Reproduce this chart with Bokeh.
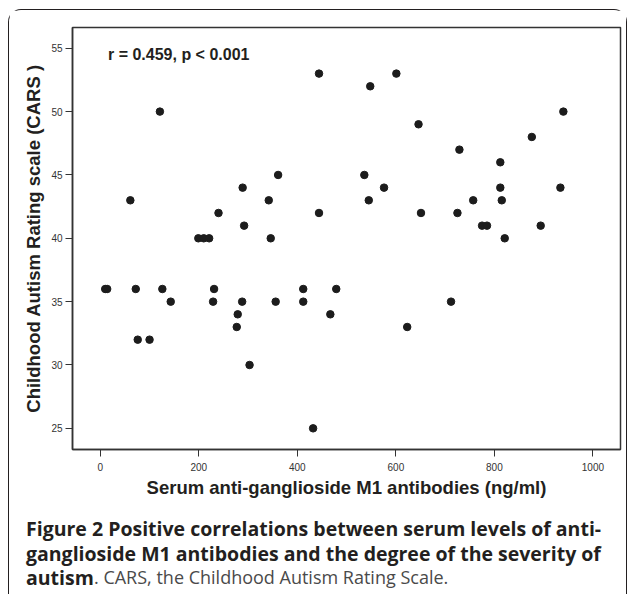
from bokeh.plotting import figure
from bokeh.layouts import column
from bokeh.models import Label, FixedTicker, ColumnDataSource
from bokeh.embed import file_html
from bokeh.resources import INLINE

# ---- data ----
gm1_ngml = [121, 61, 199, 210, 221, 240, 444, 548, 361, 536, 289, 342, 545, 444, 292, 346,
            601, 646, 729, 812, 576, 812, 757, 815, 651, 725, 775, 785, 821, 940, 876, 934,
            894, 412, 479, 412, 712, 467, 623, 231, 229, 288, 356, 279, 277, 303, 432, 10,
            14, 72, 126, 143, 76, 100]
cars_score = [50, 43, 40, 40, 40, 42, 53, 52, 45, 45, 44, 43, 43, 42, 41, 40,
              53, 49, 47, 46, 44, 44, 43, 43, 42, 42, 41, 41, 40, 50, 48, 44,
              41, 36, 36, 35, 35, 34, 33, 36, 35, 35, 35, 34, 33, 30, 25, 36,
              36, 36, 36, 35, 32, 32]
x_ticks = [0, 200, 400, 600, 800, 1000]
y_ticks = [25, 30, 35, 40, 45, 50, 55]
stat_text = "r = 0.459, p < 0.001"
x_title = "Serum anti-ganglioside M1 antibodies (ng/ml)"
y_title = "Childhood Autism Rating scale (CARS )"
caption_1 = "Figure 2 Positive correlations between serum levels of anti-"
caption_2 = "ganglioside M1 antibodies and the degree of the severity of"
caption_3a = "autism"
caption_3b = ". CARS, the Childhood Autism Rating Scale."

INK = "#231f20"
AX = "#333333"

src = ColumnDataSource(dict(x=gm1_ngml, y=cars_score))

p = figure(width=617, height=500, x_range=(-56.4, 1056.0), y_range=(23.33, 56.64),
           output_backend="svg", toolbar_location=None,
           min_border_left=63, min_border_right=6, min_border_top=17, min_border_bottom=61)
p.frame_align = False
p.background_fill_color = "white"
p.border_fill_color = "white"
p.outline_line_color = AX
p.outline_line_width = 1.5
p.xgrid.visible = False
p.ygrid.visible = False

p.scatter("x", "y", source=src, size=7.5, color="#1c1c1c")

for ax in (p.xaxis[0], p.yaxis[0]):
    ax.axis_line_color = AX
    ax.axis_line_width = 1.5
    ax.major_tick_line_color = AX
    ax.major_tick_line_width = 1
    ax.major_tick_out = 7
    ax.major_tick_in = 0
    ax.minor_tick_line_color = None
    ax.major_label_text_font = "Liberation Sans"
    ax.major_label_text_font_size = "10px"
    ax.major_label_text_color = AX
    ax.axis_label_text_font = "Liberation Sans"
    ax.axis_label_text_font_style = "bold"
    ax.axis_label_text_font_size = "18.5px"
    ax.axis_label_text_color = INK

p.xaxis.ticker = FixedTicker(ticks=x_ticks)
p.yaxis.ticker = FixedTicker(ticks=y_ticks)
p.xaxis.axis_label = x_title
p.yaxis.axis_label = y_title
p.xaxis.major_label_standoff = 6
p.xaxis.axis_label_standoff = 3
p.yaxis.major_label_standoff = 3
p.yaxis.axis_label_standoff = 4

p.add_layout(Label(x=35.5, y=395.5, x_units="screen", y_units="screen", text=stat_text,
                   text_font="Liberation Sans", text_font_style="bold", text_font_size="16px",
                   text_color=INK, text_baseline="middle"))

# ---- caption panel ----
cap = figure(width=617, height=84, x_range=(0, 617), y_range=(0, 84),
             output_backend="svg", toolbar_location=None,
             x_axis_type=None, y_axis_type=None, min_border=0)
cap.frame_align = False
cap.outline_line_color = None
cap.background_fill_color = "white"
cap.border_fill_color = "white"
cap.xgrid.visible = False
cap.ygrid.visible = False

cap_font = "Open Sans"
cap_size = "19.5px"
cap.add_layout(Label(x=16.5, y=66.5, x_units="screen", y_units="screen", text=caption_1,
                     text_font=cap_font, text_font_style="bold", text_font_size=cap_size,
                     text_color=INK, text_baseline="middle"))
cap.add_layout(Label(x=16.5, y=41.5, x_units="screen", y_units="screen", text=caption_2,
                     text_font=cap_font, text_font_style="bold", text_font_size=cap_size,
                     text_color=INK, text_baseline="middle"))
cap.add_layout(Label(x=16.5, y=17.5, x_units="screen", y_units="screen", text=caption_3a,
                     text_font=cap_font, text_font_style="bold", text_font_size=cap_size,
                     text_color=INK, text_baseline="middle"))
cap.add_layout(Label(x=84.5, y=17.5, x_units="screen", y_units="screen", text=caption_3b,
                     text_font=cap_font, text_font_style="normal", text_font_size="18px",
                     text_color="#4a4a4a", text_baseline="middle"))

page = column(p, cap, spacing=0,
              styles={"border": "1.5px solid #231f20", "border-bottom": "none",
                      "border-radius": "13px 13px 0 0", "margin-left": "8px",
                      "margin-top": "9px"})

open("out.html", "w").write(file_html(page, INLINE))
